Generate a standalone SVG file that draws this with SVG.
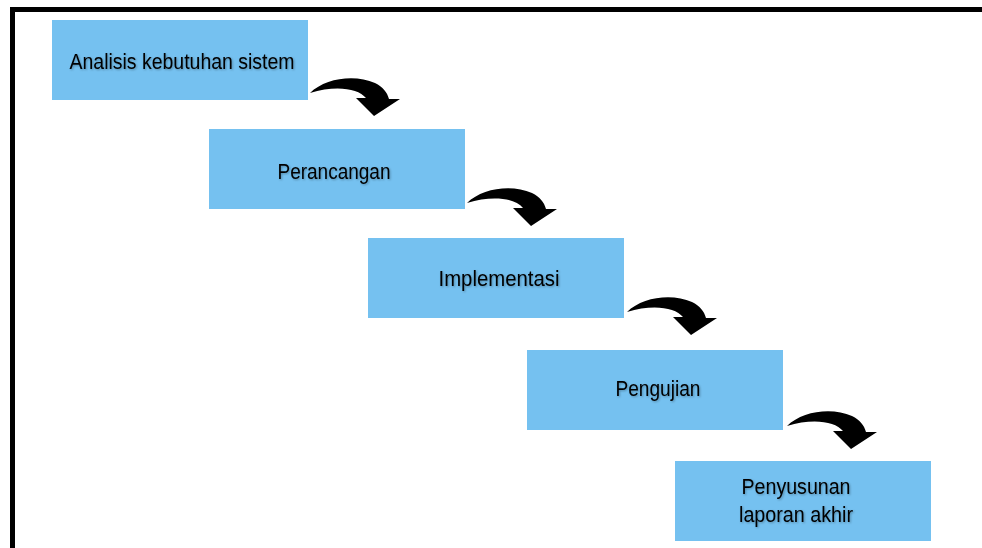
<svg xmlns="http://www.w3.org/2000/svg" width="982" height="548" viewBox="0 0 982 548">
  <style>
    .box { fill: #75C1F0; }
    .lbl { font-family: "Liberation Sans", Arial, sans-serif; font-size: 22px; fill: #000; text-anchor: middle; filter: url(#sh); }
    .frame { fill: none; stroke: #000; stroke-width: 5; }
  </style>
  <defs>
    <filter id="sh" x="-10%" y="-30%" width="120%" height="160%">
      <feDropShadow dx="1" dy="1" stdDeviation="0.8" flood-color="#000" flood-opacity="0.3"/>
    </filter>
    <path id="curveArrow" d="M0,0 C15,-15 45,-19 65,-10 C73,-6 77,-1 79,6 L90,6 L64,23 L46,5 L56,5 C48,-5 25,-8 0,0 Z" fill="#000"/>
  </defs>

  <path class="frame" d="M12.5,548 V9.5 H982"/>

  <g id="node-analisis">
    <rect class="box" x="52" y="20" width="256" height="80"/>
    <text class="lbl" x="182" y="69" textLength="225" lengthAdjust="spacingAndGlyphs">Analisis kebutuhan sistem</text>
  </g>
  <g id="node-perancangan">
    <rect class="box" x="209" y="129" width="256" height="80"/>
    <text class="lbl" x="334" y="179" textLength="113" lengthAdjust="spacingAndGlyphs">Perancangan</text>
  </g>
  <g id="node-implementasi">
    <rect class="box" x="368" y="238" width="256" height="80"/>
    <text class="lbl" x="499" y="286" textLength="121" lengthAdjust="spacingAndGlyphs">Implementasi</text>
  </g>
  <g id="node-pengujian">
    <rect class="box" x="527" y="350" width="256" height="80"/>
    <text class="lbl" x="658" y="396" textLength="85" lengthAdjust="spacingAndGlyphs">Pengujian</text>
  </g>
  <g id="node-penyusunan">
    <rect class="box" x="675" y="461" width="256" height="80"/>
    <text class="lbl" x="796" y="494" textLength="109" lengthAdjust="spacingAndGlyphs">Penyusunan</text>
    <text class="lbl" x="796" y="522" textLength="114" lengthAdjust="spacingAndGlyphs">laporan akhir</text>
  </g>

  <g id="connectors">
    <use href="#curveArrow" x="310" y="93"/>
    <use href="#curveArrow" x="467" y="203"/>
    <use href="#curveArrow" x="627" y="312"/>
    <use href="#curveArrow" x="787" y="426"/>
  </g>
</svg>
